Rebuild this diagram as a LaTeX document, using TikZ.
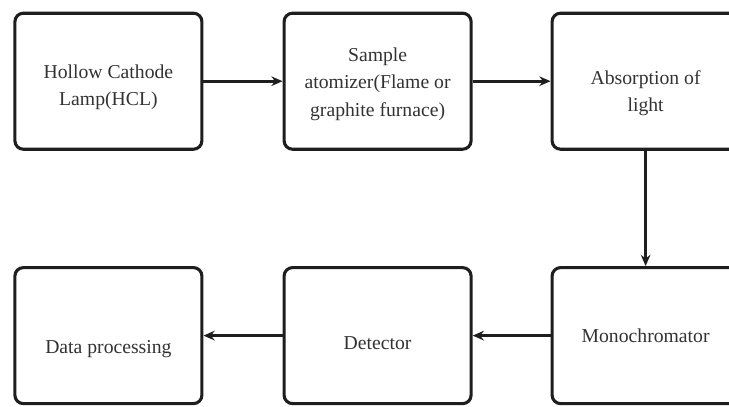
\documentclass[tikz,border=0pt]{standalone}
\usepackage{fontspec}
\setmainfont{Liberation Serif}
\usepackage{tikz}
\usetikzlibrary{arrows.meta, positioning}
\definecolor{boxline}{RGB}{30,30,30}
\definecolor{textcolor}{RGB}{50,50,50}
% lower the text inside a box without changing the box
\newcommand{\droptext}[2]{\raisebox{-#1}[\height][\depth]{\begin{tabular}{@{}c@{}}#2\end{tabular}}}

\begin{document}
\begin{tikzpicture}[
    stage/.style={draw=boxline, line width=2.2pt, rounded corners=6pt, minimum width=4.675cm, minimum height=3.4cm, align=center, text=textcolor, font=\fontsize{14}{19.5}\selectfont},
    arrow/.style={-{Stealth[length=2.8mm, width=2.4mm]}, line width=2.2pt, boxline}
]
    \useasboundingbox (0,0) rectangle (18.225,-10.15);

    % Top row
    \node[stage] (hcl) at (2.71,-2.03) {\droptext{0.13cm}{Hollow Cathode\\Lamp(HCL)}};
    \node[stage] (atom) at (9.44,-2.03) {\droptext{0.05cm}{Sample\\atomizer(Flame or\\graphite furnace)}};
    \node[stage] (absorb) at (16.14,-2.03) {\droptext{0.28cm}{Absorption of\\light}};

    % Bottom row
    \node[stage] (data) at (2.71,-8.39) {\droptext{0.3cm}{Data processing}};
    \node[stage] (detect) at (9.44,-8.39) {\droptext{0.2cm}{Detector}};
    \node[stage] (mono) at (16.14,-8.39) {Monochromator};

    % Flow
    \draw[arrow] (hcl) -- (atom);
    \draw[arrow] (atom) -- (absorb);
    \draw[arrow] (absorb) -- (mono);
    \draw[arrow] (mono) -- (detect);
    \draw[arrow] (detect) -- (data);
\end{tikzpicture}
\end{document}
